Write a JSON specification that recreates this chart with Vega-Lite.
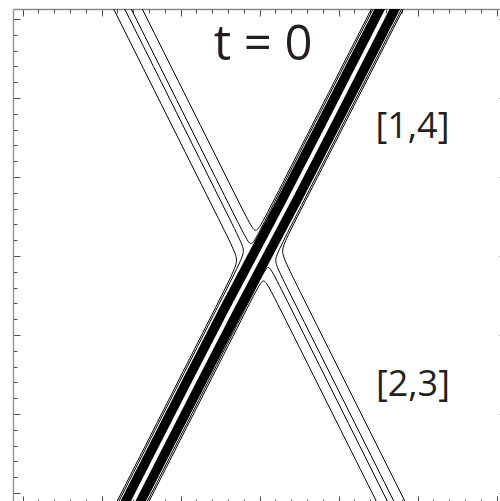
{
  "$schema": "https://vega.github.io/schema/vega-lite/v6.json",
  "width": 487,
  "height": 492,
  "autosize": {"type": "none"},
  "padding": {"left": 13, "top": 9, "right": 0, "bottom": 0},
  "background": "white",
  "config": {
    "view": {"stroke": null},
    "axis": {"labels": false, "grid": false, "domainColor": "#8a8a8a", "domainWidth": 1.3, "tickColor": "#505050", "tickWidth": 1}
  },
  "datasets": {
    "stripes": [
      {"id": "s1", "i": 0, "x": 8.05, "y": 16.5},
      {"id": "s1", "i": 1, "x": 0.40, "y": 1.5},
      {"id": "s1", "i": 2, "x": -1.33, "y": -1.5},
      {"id": "s1", "i": 3, "x": -8.98, "y": -16.5},
      {"id": "s2", "i": 0, "x": 9.00, "y": 16.5},
      {"id": "s2", "i": 1, "x": 1.35, "y": 1.5},
      {"id": "s2", "i": 2, "x": -0.38, "y": -1.5},
      {"id": "s2", "i": 3, "x": -8.03, "y": -16.5}
    ],
    "contours": [
      {"id": "T1", "i": 0, "x": -8.115, "y": 17},
      {"id": "T1", "i": 1, "x": -0.787, "y": 2.345},
      {"id": "T1", "i": 2, "x": -0.251, "y": 1.272},
      {"id": "T1", "i": 3, "x": 0.294, "y": 2.341},
      {"id": "T1", "i": 4, "x": 7.77, "y": 17},
      {"id": "T2", "i": 0, "x": -8.814, "y": 17},
      {"id": "T2", "i": 1, "x": -0.999, "y": 1.370},
      {"id": "T2", "i": 2, "x": -0.552, "y": 0.476},
      {"id": "T2", "i": 3, "x": -0.098, "y": 1.367},
      {"id": "T2", "i": 4, "x": 7.875, "y": 17},
      {"id": "L1", "i": 0, "x": -9.925, "y": 17},
      {"id": "L1", "i": 1, "x": -1.830, "y": 0.811},
      {"id": "L1", "i": 2, "x": -1.294, "y": -0.262},
      {"id": "L1", "i": 3, "x": -1.80, "y": -1.331},
      {"id": "L1", "i": 4, "x": -9.77, "y": -17},
      {"id": "L2", "i": 0, "x": -9.226, "y": 17},
      {"id": "L2", "i": 1, "x": -1.336, "y": 1.220},
      {"id": "L2", "i": 2, "x": -0.889, "y": 0.326},
      {"id": "L2", "i": 3, "x": -1.30, "y": -0.565},
      {"id": "L2", "i": 4, "x": -9.665, "y": -17},
      {"id": "R1", "i": 0, "x": 9.93, "y": -17},
      {"id": "R1", "i": 1, "x": 1.813, "y": -0.766},
      {"id": "R1", "i": 2, "x": 1.277, "y": 0.307},
      {"id": "R1", "i": 3, "x": 1.822, "y": 1.376},
      {"id": "R1", "i": 4, "x": 9.79, "y": 17},
      {"id": "R2", "i": 0, "x": 9.231, "y": -17},
      {"id": "R2", "i": 1, "x": 1.318, "y": -1.175},
      {"id": "R2", "i": 2, "x": 0.871, "y": -0.281},
      {"id": "R2", "i": 3, "x": 1.325, "y": 0.610},
      {"id": "R2", "i": 4, "x": 9.685, "y": 17},
      {"id": "B1", "i": 0, "x": 8.12, "y": -17},
      {"id": "B1", "i": 1, "x": 0.770, "y": -2.301},
      {"id": "B1", "i": 2, "x": 0.234, "y": -1.228},
      {"id": "B1", "i": 3, "x": -0.26, "y": -2.297},
      {"id": "B1", "i": 4, "x": -7.75, "y": -17},
      {"id": "B2", "i": 0, "x": 8.819, "y": -17},
      {"id": "B2", "i": 1, "x": 0.982, "y": -1.326},
      {"id": "B2", "i": 2, "x": 0.535, "y": -0.432},
      {"id": "B2", "i": 3, "x": 0.12, "y": -1.323},
      {"id": "B2", "i": 4, "x": -7.855, "y": -17}
    ],
    "title": [
      {"label": "t = 0", "x": 0.22, "y": 12.41}
    ],
    "labels": [
      {"label": "[1,4]", "x": 9.67, "y": 7.45},
      {"label": "[2,3]", "x": 9.70, "y": -8.85}
    ]
  },
  "layer": [
    {
      "data": {"name": "stripes"},
      "mark": {"type": "line", "clip": true, "color": "black", "strokeWidth": 9.4, "interpolate": "basis"},
      "encoding": {
        "x": {"field": "x", "type": "quantitative", "title": null,
              "scale": {"domain": [-15.61, 15.21], "nice": false, "zero": false},
              "axis": {"orient": "bottom", "values": [-15, -10, -5, 0, 5, 10, 15], "tickSize": -7, "offset": 2, "domain": false}},
        "y": {"field": "y", "type": "quantitative", "title": null,
              "scale": {"domain": [-15.51, 15.63], "nice": false, "zero": false},
              "axis": {"orient": "left", "values": [-15, -10, -5, 0, 5, 10, 15], "tickSize": -7, "domain": true}},
        "detail": {"field": "id"},
        "order": {"field": "i"}
      }
    },
    {
      "data": {"name": "contours"},
      "mark": {"type": "line", "clip": true, "color": "black", "strokeWidth": 1, "interpolate": "basis"},
      "encoding": {
        "x": {"field": "x", "type": "quantitative", "title": null,
              "scale": {"domain": [-15.61, 15.21], "nice": false, "zero": false},
              "axis": {"orient": "bottom", "values": [-14, -13, -12, -11, -9, -8, -7, -6, -4, -3, -2, -1, 1, 2, 3, 4, 6, 7, 8, 9, 11, 12, 13, 14], "tickSize": -4, "offset": 2, "domain": false}},
        "y": {"field": "y", "type": "quantitative", "title": null,
              "scale": {"domain": [-15.51, 15.63], "nice": false, "zero": false},
              "axis": {"orient": "left", "values": [-14, -13, -12, -11, -9, -8, -7, -6, -4, -3, -2, -1, 1, 2, 3, 4, 6, 7, 8, 9, 11, 12, 13, 14], "tickSize": -4, "domain": false}},
        "detail": {"field": "id"},
        "order": {"field": "i"}
      }
    },
    {
      "data": {"name": "title"},
      "mark": {"type": "text", "font": "Open Sans", "fontSize": 49, "color": "#231f20", "align": "center", "baseline": "alphabetic"},
      "encoding": {
        "x": {"field": "x", "type": "quantitative", "title": null,
              "scale": {"domain": [-15.61, 15.21], "nice": false, "zero": false},
              "axis": {"orient": "top", "values": [-15, -10, -5, 0, 5, 10, 15], "tickSize": -7, "domain": true}},
        "y": {"field": "y", "type": "quantitative", "title": null,
              "scale": {"domain": [-15.51, 15.63], "nice": false, "zero": false},
              "axis": {"orient": "right", "values": [-15, -10, -5, 0, 5, 10, 15], "tickSize": -7, "offset": 6, "domain": false}},
        "text": {"field": "label"}
      }
    },
    {
      "data": {"name": "labels"},
      "mark": {"type": "text", "font": "Open Sans", "fontSize": 36, "color": "#231f20", "align": "center", "baseline": "alphabetic"},
      "encoding": {
        "x": {"field": "x", "type": "quantitative", "title": null,
              "scale": {"domain": [-15.61, 15.21], "nice": false, "zero": false},
              "axis": {"orient": "top", "values": [-14, -13, -12, -11, -9, -8, -7, -6, -4, -3, -2, -1, 1, 2, 3, 4, 6, 7, 8, 9, 11, 12, 13, 14], "tickSize": -4, "domain": false}},
        "y": {"field": "y", "type": "quantitative", "title": null,
              "scale": {"domain": [-15.51, 15.63], "nice": false, "zero": false},
              "axis": {"orient": "right", "values": [-14, -13, -12, -11, -9, -8, -7, -6, -4, -3, -2, -1, 1, 2, 3, 4, 6, 7, 8, 9, 11, 12, 13, 14], "tickSize": -4, "offset": 6, "domain": false}},
        "text": {"field": "label"}
      }
    }
  ],
  "resolve": {"axis": {"x": "independent", "y": "independent"}}
}
